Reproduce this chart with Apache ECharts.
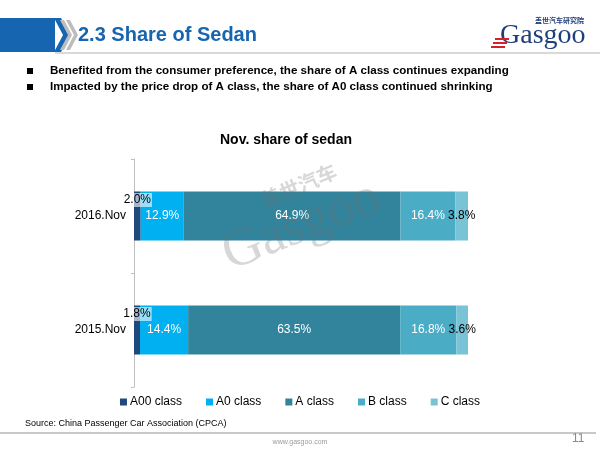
<!DOCTYPE html>
<html><head><meta charset="utf-8">
<script src="https://cdn.jsdelivr.net/npm/echarts@6/dist/echarts.min.js"></script>
<style>html,body{margin:0;padding:0;background:#fff}#c{width:600px;height:450px}</style>
</head><body><div id="c"></div>
<script>
var categories = ['2016.Nov', '2015.Nov'];
var seriesNames = ['A00 class', 'A0 class', 'A class', 'B class', 'C class'];
var a00 = [2.0, 1.8];
var a0 = [12.9, 14.4];
var aCls = [64.9, 63.5];
var bCls = [16.4, 16.8];
var cCls = [3.8, 3.6];
var chartTitle = 'Nov. share of sedan';
var pageTitle = '2.3 Share of Sedan';
var bullets = ['Benefited from the consumer preference, the share of A class continues expanding',
  'Impacted by the price drop of A class, the share of A0 class continued shrinking'];
var sourceText = 'Source: China Passenger Car Association (CPCA)';

var colors = ['#1f497d', '#00b0f0', '#31849b', '#4bacc6', '#78c3d5'];
var values = [a00, a0, aCls, bCls, cCls];
var labelColors = ['#000', '#fff', '#fff', '#fff', '#000'];
var ff = 'Liberation Sans, Arial, sans-serif';

var series = seriesNames.map(function (n, i) {
  var lab = {
    show: true, color: labelColors[i], fontSize: 12, fontFamily: ff,
    formatter: function (p) { return p.value.toFixed(1) + '%'; }
  };
  lab.position = 'inside';
  if (i === 0) {
    lab.offset = [0, -16];
    lab.backgroundColor = 'rgba(255,255,255,0.6)';
    lab.padding = [1, 1];
  }
  return {
    name: n, type: 'bar', stack: 'total', barWidth: '43%',
    itemStyle: { color: colors[i] },
    label: lab,
    data: values[i],
    z: 2
  };
});

var wmFill = 'rgba(110,110,110,0.28)';
var chart = echarts.init(document.getElementById('c'));
chart.setOption({
  animation: false,
  title: { text: chartTitle, left: 281, top: 128, textAlign: 'center',
    textStyle: { fontSize: 14, fontWeight: 'bold', color: '#000', fontFamily: ff } },
  grid: { left: 134, right: 132, top: 159, bottom: 63 },
  xAxis: { type: 'value', min: 0, max: 100, show: false },
  yAxis: { type: 'category', data: categories, inverse: true,
    axisLine: { lineStyle: { color: '#bfbfbf', width: 1 } },
    axisTick: { show: true, length: 3, lineStyle: { color: '#bfbfbf' } },
    axisLabel: { color: '#000', fontSize: 12, fontFamily: ff, margin: 8 } },
  legend: { bottom: 37, left: 'center', itemWidth: 7, itemHeight: 7, itemGap: 24,
    icon: 'rect', textStyle: { fontSize: 12, color: '#000', fontFamily: ff, padding: [0, 0, 0, -2] },
    data: seriesNames },
  series: series,
  graphic: [
    { type: 'rect', shape: { x: 0, y: 18, width: 55, height: 34 }, style: { fill: '#1565b0' } },
    { type: 'polygon', shape: { points: [[54, 18], [61, 18], [70, 35], [61, 52], [54, 52], [63, 35]] }, style: { fill: '#1565b0' } },
    { type: 'polygon', shape: { points: [[60, 20], [64, 20], [72, 35], [64, 50], [60, 50], [68, 35]] }, style: { fill: '#bdbdbd' } },
    { type: 'polygon', shape: { points: [[66, 20], [70, 20], [78, 35], [70, 50], [66, 50], [74, 35]] }, style: { fill: '#bdbdbd' } },
    { type: 'rect', shape: { x: 55, y: 52, width: 545, height: 2 }, style: { fill: '#d9d9d9' } },
    { type: 'text', left: 78, top: 25, style: { text: pageTitle, fill: '#1565b0', font: 'bold 20px Liberation Sans, Arial, sans-serif' } },
    { type: 'text', left: 535, top: 17, style: { text: '盖世汽车研究院', fill: '#1f3f7a', font: 'bold 7px Noto Sans CJK SC, sans-serif' } },
    { type: 'text', left: 500, top: 22, style: { text: 'Gasgoo', fill: '#1f3f7a', font: '28px Liberation Serif, serif' } },
    { type: 'rect', shape: { x: 495, y: 38, width: 14, height: 2 }, style: { fill: '#d2232a' } },
    { type: 'rect', shape: { x: 493, y: 42, width: 14, height: 2 }, style: { fill: '#d2232a' } },
    { type: 'rect', shape: { x: 491, y: 46, width: 14, height: 2 }, style: { fill: '#d2232a' } },
    { type: 'rect', shape: { x: 27, y: 68, width: 6, height: 6 }, style: { fill: '#000' } },
    { type: 'rect', shape: { x: 27, y: 84, width: 6, height: 6 }, style: { fill: '#000' } },
    { type: 'text', left: 50, top: 65, style: { text: bullets[0], fill: '#000', font: 'bold 11.6px Liberation Sans, Arial, sans-serif' } },
    { type: 'text', left: 50, top: 81, style: { text: bullets[1], fill: '#000', font: 'bold 11.6px Liberation Sans, Arial, sans-serif' } },
    { type: 'text', left: 25, top: 419, style: { text: sourceText, fill: '#000', font: '9px Liberation Sans, Arial, sans-serif' } },
    { type: 'rect', shape: { x: 0, y: 432, width: 596, height: 2 }, style: { fill: '#c8c8c8' } },
    { type: 'text', left: 'center', top: 439, style: { text: 'www.gasgoo.com', fill: '#9a9a9a', font: '7px Liberation Sans, Arial, sans-serif' } },
    { type: 'text', left: 572, top: 433, style: { text: '11', fill: '#8a8a8a', font: '12px Liberation Sans, Arial, sans-serif' } },
    { type: 'text', x: 258, y: 192, rotation: 0.4, z: 100, style: { text: '盖世汽车', fill: wmFill, font: 'bold 20px Noto Sans CJK SC, sans-serif' } },
    { type: 'text', x: 215, y: 232, rotation: 0.38, z: 100, style: { text: 'Gasgoo', fill: wmFill, font: '54px Liberation Serif, serif' } }
  ]
});
</script>
</body></html>
